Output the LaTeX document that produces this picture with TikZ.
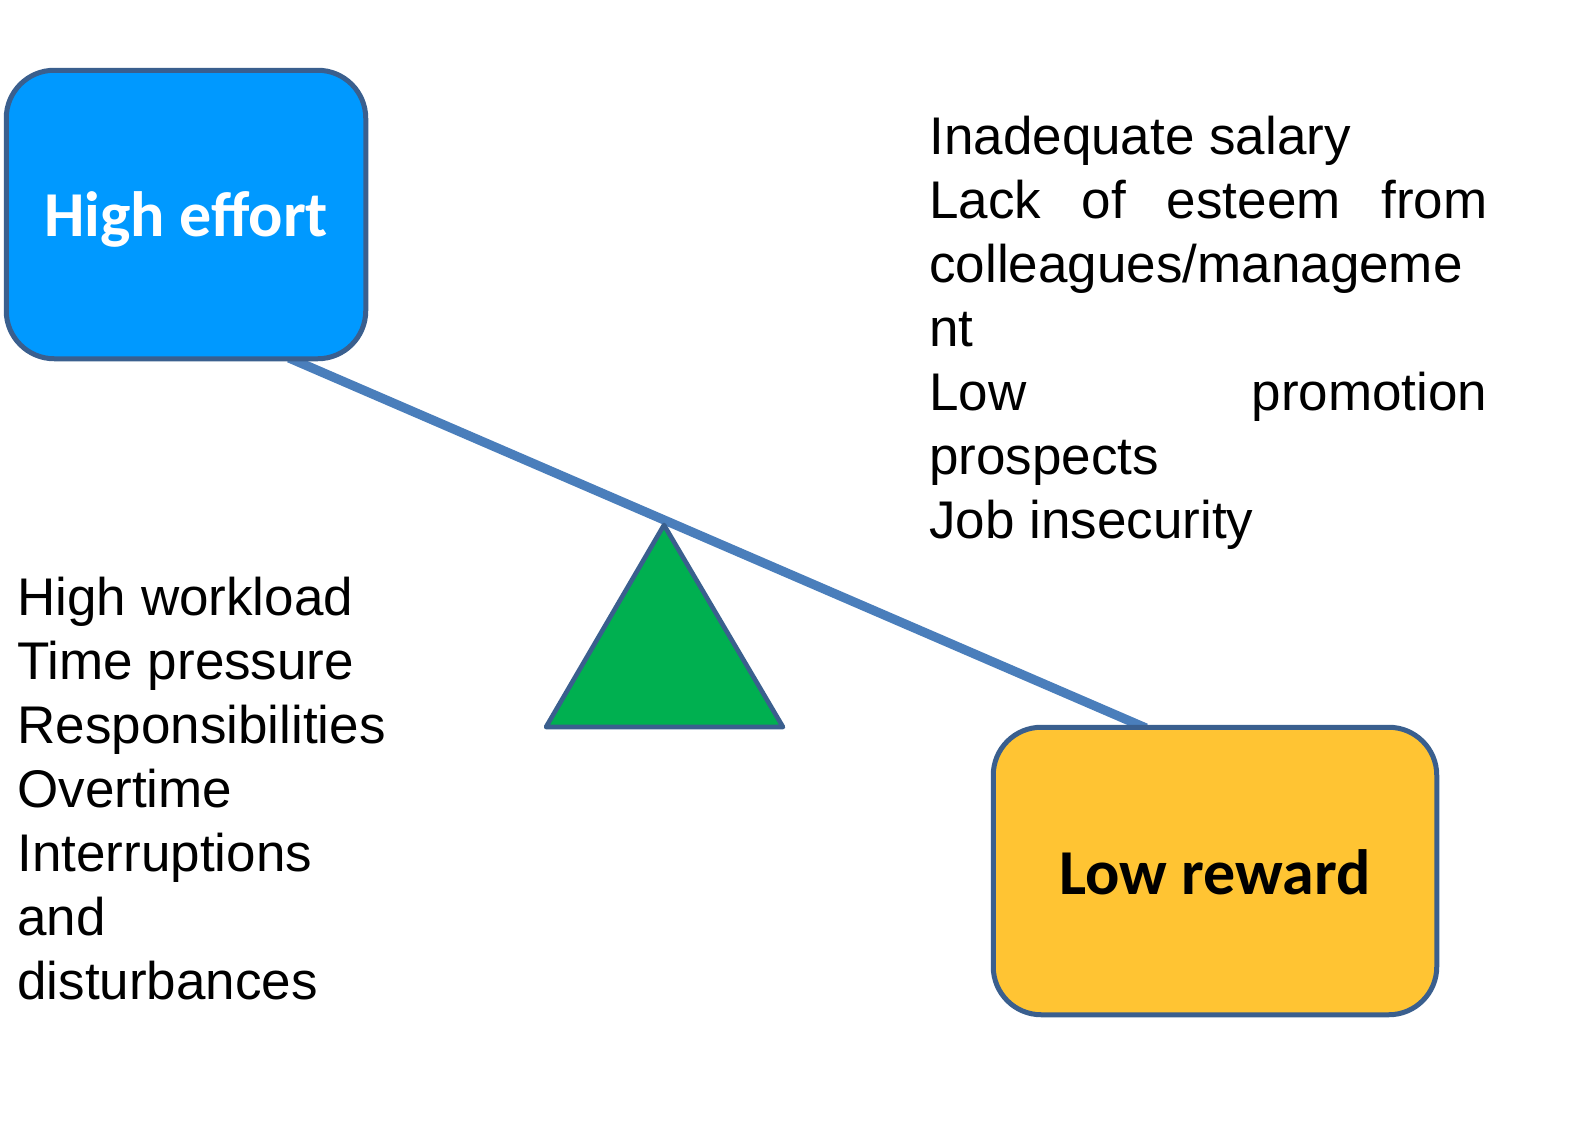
\documentclass[tikz,border=0pt]{standalone}
\usepackage{fontspec}
\setmainfont{Liberation Sans}
\newfontfamily\calib{Carlito}
\definecolor{effblue}{HTML}{0099FF}
\definecolor{bordc}{HTML}{3A5F8E}
\definecolor{beamc}{HTML}{4A7EBB}
\definecolor{trigreen}{HTML}{00B050}
\definecolor{rewyellow}{HTML}{FFC433}
\begin{document}
\begin{tikzpicture}[x=0.5pt,y=-0.5pt,
  boxst/.style={draw=bordc, line width=2.5pt, rounded corners=24pt, inner sep=0pt,
    text depth=0pt, font=\calib\bfseries\fontsize{32pt}{38pt}\selectfont},
  listst/.style={anchor=base west, inner sep=0pt,
    font=\fontsize{26.5pt}{32pt}\selectfont},
  beamst/.style={draw=beamc, line width=4.6pt},
  fulcrum/.style={draw=bordc, fill=trigreen, line width=2.3pt, line join=round}]
\useasboundingbox (0,0) rectangle (1590,1125);
% beam
\coordinate (bl) at (289,358);
\coordinate (br) at (1146,728);
\draw[beamst] (bl) -- (br);
% fulcrum
\coordinate (apex) at (664,525);
\coordinate (tl) at (546,727);
\coordinate (tr) at (783,727);
\draw[fulcrum] (apex) -- (tr) -- (tl) -- cycle;
% boxes
\node[boxst, fill=effblue, text=white, minimum width=179.75pt, minimum height=144.25pt] (he) at (186,214.5) {High effort};
\node[boxst, fill=rewyellow, text=black, minimum width=221.75pt, minimum height=143.75pt] (lr) at (1215,871) {\raisebox{-1.5pt}{Low reward}};
% lists
\node[listst] (effl) at (17,615) {\vtop{\hsize=200pt\baselineskip=32pt
  \hbox{High workload}
  \hbox{Time pressure}
  \hbox{Responsibilities}
  \hbox{Overtime}
  \hbox{Interruptions}
  \hbox{and}
  \hbox{disturbances}}};
\node[listst] (rewl) at (929,154) {\vtop{\hsize=279pt\baselineskip=32pt
  \hbox{Inadequate salary}
  \hbox to\hsize{Lack\hfill of\hfill esteem\hfill from}
  \hbox{colleagues/manageme}
  \hbox{nt}
  \hbox to\hsize{Low\hfill promotion}
  \hbox{prospects}
  \hbox{Job insecurity}}};
\end{tikzpicture}
\end{document}
